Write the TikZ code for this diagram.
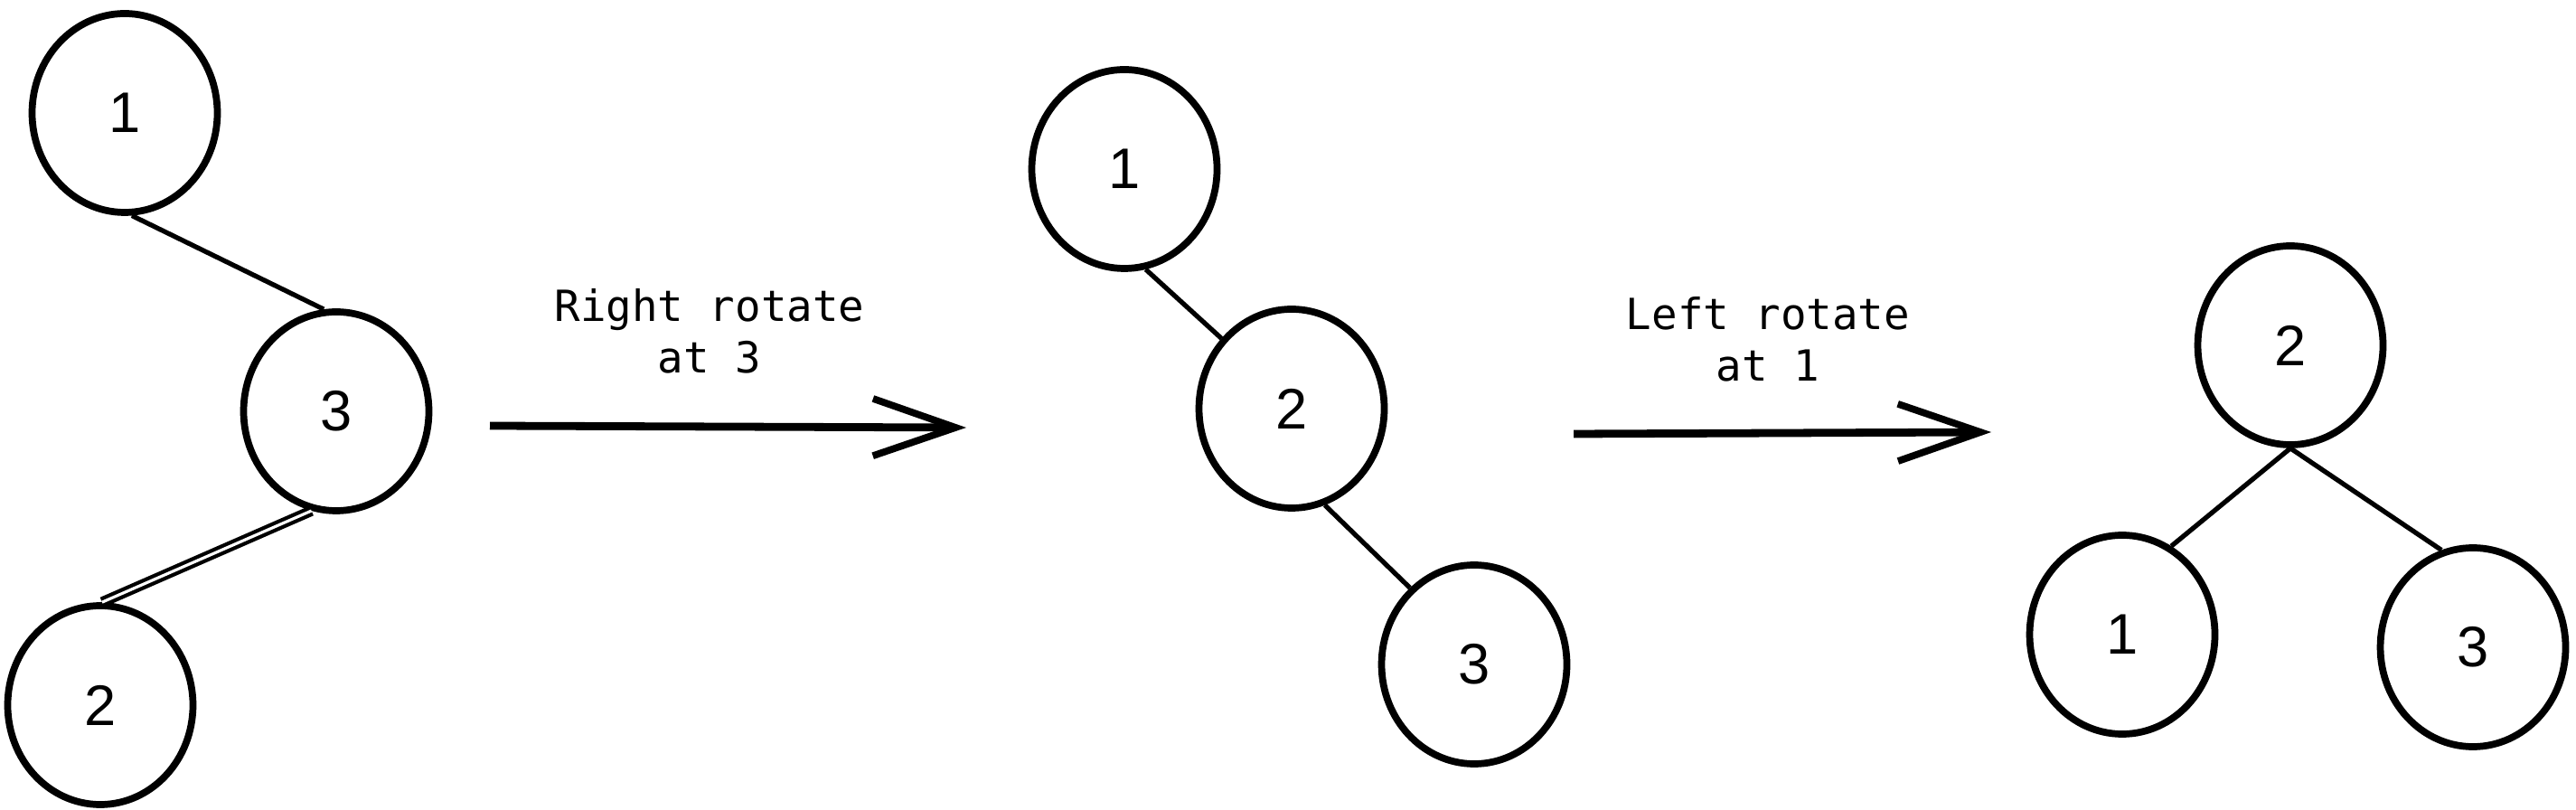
\documentclass[tikz,border=0pt]{standalone}
\usepackage{fontspec}
\setmainfont{Liberation Sans}
\setmonofont{DejaVu Sans Mono}
\usetikzlibrary{shapes.geometric, arrows.meta}

\begin{document}
\begin{tikzpicture}[
    tnode/.style={draw, ellipse, line width=2.2pt, minimum width=2.05cm, minimum height=2.2cm, inner sep=0pt, font=\fontsize{18}{20}\selectfont},
    edge/.style={line width=1.5pt},
    rotarrow/.style={line width=2.5pt, -{Straight Barb[length=26pt, width=18pt, line width=2.2pt]}},
    rotlabel/.style={align=center, font=\ttfamily\fontsize{13.5}{16.2}\selectfont}
]
\useasboundingbox (0,0) rectangle (28.5,-8.96);

\node[tnode] (t1a) at (1.38,-1.25) {1};
\node[tnode] (t1c) at (3.72,-4.55) {3};
\node[tnode] (t1b) at (1.11,-7.80) {2};

\node[tnode] (t2a) at (12.44,-1.87) {1};
\node[tnode] (t2b) at (14.29,-4.52) {2};
\node[tnode] (t2c) at (16.31,-7.35) {3};

\node[tnode] (t3b) at (25.34,-3.82) {2};
\node[tnode] (t3a) at (23.48,-7.02) {1};
\node[tnode] (t3c) at (27.36,-7.16) {3};

\coordinate (r1) at (5.42,-4.71);
\coordinate (r2) at (10.69,-4.73);
\coordinate (l1) at (17.41,-4.80);
\coordinate (l2) at (22.03,-4.78);

\node[rotlabel] (rlabel) at (7.85,-3.66) {Right rotate\\at 3};
\node[rotlabel] (llabel) at (19.56,-3.75) {Left rotate\\at 1};

\draw[edge] (t1a.-86) -- (t1c.97);
\draw[edge, double, double distance=0.9pt, line width=1.2pt] (t1c.-104) -- (t1b.89);

\draw[edge] (t2a.-78) -- (t2b.135);
\draw[edge] (t2b.-71) -- (t2c.130);

\draw[edge] (t3b.south) -- (t3a.61);
\draw[edge] (t3b.south) -- (t3c.108);

\draw[rotarrow] (r1) -- (r2);
\draw[rotarrow] (l1) -- (l2);

\end{tikzpicture}
\end{document}
